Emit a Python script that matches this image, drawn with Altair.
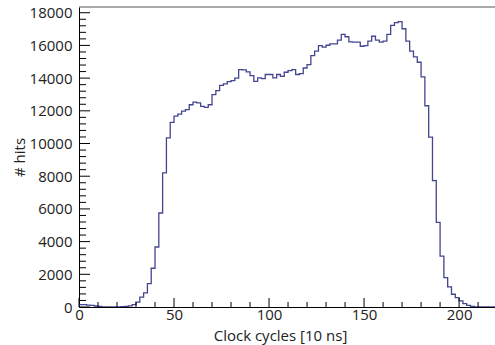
import altair as alt
import pandas as pd

# ---- data ----
bin_width = 2
bin_edges = list(range(0, 220, 2))
counts = [
    150, 150, 120, 100, 60, 30, 10, 5, 5, 5,
    10, 20, 40, 70, 150, 300, 600, 870, 1435, 2370,
    3670, 5750, 8200, 10350, 11290, 11680, 11800, 11980, 12070, 12370,
    12530, 12480, 12270, 12210, 12370, 12990, 13230, 13550, 13650, 13780,
    13850, 14000, 14520, 14510, 14380, 14150, 13800, 14010, 13970, 14220,
    14220, 14010, 14220, 14110, 14360, 14460, 14520, 14220, 14280, 14620,
    14830, 15380, 15650, 15990, 15890, 16010, 16100, 16100, 16320, 16670,
    16530, 16220, 16200, 16200, 15950, 15990, 16260, 16560, 16320, 16200,
    16260, 16670, 17220, 17390, 17450, 17020, 16260, 15650, 15300, 14970,
    14070, 12310, 10390, 7730, 5180, 3110, 1800, 1230, 780, 575,
    370, 210, 100, 30, 0, 0, 0, 0, 0, 0,
]

x_major = [0, 50, 100, 150, 200]
x_minor = [10, 20, 30, 40, 60, 70, 80, 90, 110, 120, 130, 140, 160, 170, 180, 190, 210]
y_major = [0, 2000, 4000, 6000, 8000, 10000, 12000, 14000, 16000, 18000]
y_minor = [v for v in range(0, 18001, 400) if v % 2000 != 0]

x_title = "Clock cycles [10 ns]"
y_title = "# hits"

# ---- layout ----
W, H = 416, 300
FONT = "Open Sans"
LINE_COLOR = "#43458f"

xs = alt.Scale(domain=[0, 218.9], nice=False, zero=False)
ys = alt.Scale(domain=[0, 18350], nice=False)

x_axis = alt.Axis(
    values=x_major, ticks=False, grid=False, domainColor="black", format="d",
    domainWidth=1, labelFont=FONT, labelFontSize=15, labelColor="#222",
    labelPadding=0, title=x_title, titleFont=FONT, titleFontSize=15,
    titleFontWeight="normal", titleColor="#222", titleX=201, titleY=21,
    titleBaseline="top", titleAlign="center", labelFlush=False)
y_axis = alt.Axis(
    values=y_major, ticks=False, grid=False, domainColor="black", format="d",
    domainWidth=1, labelFont=FONT, labelFontSize=15, labelColor="#222",
    labelPadding=7, title=y_title, titleFont=FONT, titleFontSize=15,
    titleFontWeight="normal", titleColor="#222", titleX=-60, titleY=H / 2,
    titleBaseline="middle", titleAlign="center", labelFlush=False)

hist = pd.DataFrame({
    "x": bin_edges + [bin_edges[-1] + bin_width],
    "y": counts + [counts[-1]],
})

line = alt.Chart(hist).mark_line(
    interpolate="step-after", color=LINE_COLOR, strokeWidth=1.3, clip=True
).encode(
    x=alt.X("x:Q", scale=xs, axis=x_axis),
    y=alt.Y("y:Q", scale=ys, axis=y_axis),
)

ymaj = alt.Chart(pd.DataFrame({"y": y_major})).mark_rule(color="black", strokeWidth=1).encode(
    y=alt.Y("y:Q", scale=ys, axis=y_axis), x=alt.value(0), x2=alt.value(11))
ymin = alt.Chart(pd.DataFrame({"y": y_minor})).mark_rule(color="black", strokeWidth=1).encode(
    y=alt.Y("y:Q", scale=ys, axis=y_axis), x=alt.value(0), x2=alt.value(7))
xmaj = alt.Chart(pd.DataFrame({"x": x_major})).mark_rule(color="black", strokeWidth=1).encode(
    x=alt.X("x:Q", scale=xs, axis=x_axis), y=alt.value(H), y2=alt.value(H - 9))
xmin = alt.Chart(pd.DataFrame({"x": x_minor})).mark_rule(color="black", strokeWidth=1).encode(
    x=alt.X("x:Q", scale=xs, axis=x_axis), y=alt.value(H), y2=alt.value(H - 5))
top = alt.Chart(pd.DataFrame({"v": [0]})).mark_rule(color="#555", strokeWidth=1).encode(
    x=alt.value(0), x2=alt.value(W), y=alt.value(0))

chart = alt.layer(line, ymaj, ymin, xmaj, xmin, top).properties(
    width=W, height=H, autosize="none",
    padding={"left": 79, "top": 7, "right": 0, "bottom": 38},
    background="white",
).configure_view(stroke=None)

chart.save("out.html", embed_options={"renderer": "svg", "actions": False})
